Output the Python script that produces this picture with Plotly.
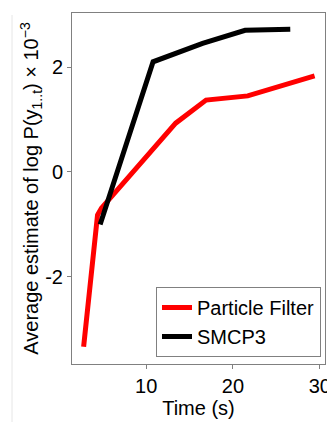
import plotly.graph_objects as go

pf_time = [2.8, 4.4, 4.85, 13.4, 16.9, 21.7, 29.4]
pf_value = [-3.33, -0.82, -0.69, 0.93, 1.37, 1.45, 1.83]
smcp3_time = [4.7, 10.8, 16.5, 21.4, 26.6]
smcp3_value = [-1.0, 2.10, 2.45, 2.70, 2.72]
y_ticks = [-2, 0, 2]
y_tick_labels = ["-2", "0", "2"]
x_ticks = [10, 20, 30]

W, H = 327, 422
L, R, T, B = 72, 2, 13, 58
pw, ph = W - L - R, H - T - B

font = dict(family="Liberation Sans, Arial, sans-serif", size=20, color="black")

fig = go.Figure()
fig.add_trace(go.Scatter(x=pf_time, y=pf_value, mode="lines", name="Particle Filter",
                         line=dict(color="#ff0000", width=5)))
fig.add_trace(go.Scatter(x=smcp3_time, y=smcp3_value, mode="lines", name="SMCP3",
                         line=dict(color="black", width=5)))

axis_common = dict(showline=True, mirror=True, linecolor="#808080", linewidth=1,
                   ticks="outside", ticklen=4, tickcolor="#808080", showgrid=False,
                   zeroline=False, tickfont=font, ticklabeloverflow="allow",
                   automargin=False)

fig.update_layout(
    width=W, height=H,
    margin=dict(l=L, r=R, t=T, b=B, autoexpand=False),
    paper_bgcolor="white", plot_bgcolor="white",
    font=font,
    showlegend=True,
    legend=dict(x=(321 - L) / pw, y=(364 - 357) / ph, xanchor="right", yanchor="bottom",
                bordercolor="#808080", borderwidth=1, bgcolor="white",
                font=font, tracegroupgap=0, itemwidth=30),
    xaxis=dict(range=[1.46, 30.6], tickvals=x_ticks,
               title=dict(text="Time (s)", font=font, standoff=4), **axis_common),
    yaxis=dict(range=[-3.66, 3.03], tickvals=y_ticks, ticktext=y_tick_labels,
               title=dict(text="Average estimate of log P(y<sub>1..t</sub>) × 10<sup>−3</sup>",
                          font=font, standoff=0), **axis_common),
    shapes=[dict(type="line", xref="paper", yref="paper",
                 x0=(12 - L) / pw, x1=(12 - L) / pw,
                 y0=(364 - 15) / ph, y1=(364 - 422) / ph,
                 line=dict(color="#e6e6e6", width=1))],
)

fig.write_html("out.html")
